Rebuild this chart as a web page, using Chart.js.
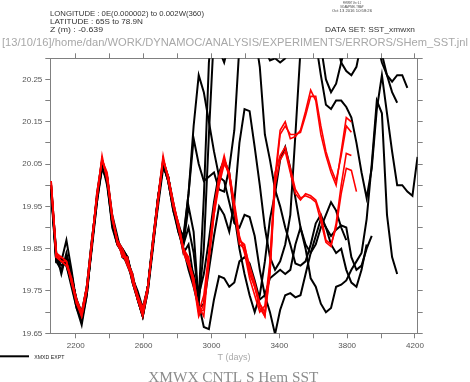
<!DOCTYPE html>
<html><head><meta charset="utf-8">
<script src="https://cdn.jsdelivr.net/npm/chart.js@4"></script>
<style>html,body{margin:0;padding:0;background:#fff;}canvas{display:block;}</style>
</head><body>
<canvas id="c" width="470" height="382"></canvas>
<script>
// time axis (days), monthly records
const startDay = 2055;
const stepDays = 30;

// XMXD EXPT members (black)
const xmxd1 = [20.00,19.82,19.80,19.83,19.78,19.73,19.68,19.74,19.86,19.98,20.06,20.02,19.92,19.87,19.85,19.83,19.77,19.73,19.69,19.75,19.85,19.96,20.05,20.02,19.96,19.90,
  19.86,19.95,19.89,19.72,19.665,19.66,19.73,19.785,19.78,19.76,19.77,19.82,19.83,19.815,19.775,19.73,19.74,19.78,19.79,19.80,19.79,19.80,19.86,19.90,19.85,19.78,19.76,19.72,19.70,19.71,19.76,19.765,19.775,19.80,19.82,19.84,19.92,20.05,20.20,20.17,19.93,19.83,19.79];
const xmxd2 = [19.99,19.84,19.79,19.84,19.79,19.72,19.69,19.76,19.87,19.97,20.05,20.01,19.90,19.86,19.84,19.81,19.78,19.74,19.70,19.76,19.86,19.97,20.05,20.01,19.94,19.89,
  19.86,19.90,19.84,19.73,19.97,20.29,20.42,20.48,20.52,20.50,20.47,20.45,20.44,20.42,20.36,20.28,20.12,20.06,19.99,19.95,19.90,19.86,19.815,19.81,19.82,19.86,19.91,19.93,19.90,19.88,19.895,19.905,19.90,19.83,19.80,19.81,19.85,19.88];
const xmxd3 = [19.99,19.83,19.82,19.87,19.80,19.72,19.69,19.75,19.86,19.96,20.04,20.02,19.93,19.88,19.83,19.82,19.79,19.73,19.69,19.76,19.87,19.97,20.06,20.02,19.95,19.91,
  19.87,19.98,20.11,20.05,20.01,20.02,20.03,19.99,19.985,20.04,20.13,20.33,20.44,20.50,20.52,20.50,20.47,20.45,20.46,20.48,20.50,20.52,20.50,20.47,20.44,20.40,20.34,20.26,20.19,20.18,20.20,20.20,20.185,20.16,20.10,20.03,19.97,20.04,20.18,20.26,20.17,20.08,20.00,20.00,19.985,19.975,20.067];
const xmxd4 = [19.98,19.82,19.83,19.81,19.76,19.71,19.68,19.75,19.85,19.96,20.05,20.00,19.91,19.86,19.85,19.83,19.78,19.75,19.71,19.76,19.86,19.95,20.04,20.02,19.95,19.90,
  19.88,19.98,20.14,20.26,20.22,20.15,20.08,20.02,20.01,19.96,19.91,19.90,19.93,19.925,19.88,19.80,19.74,19.70,19.648,19.705,19.74,19.745,19.735,19.74,19.79,19.84,19.88,19.92,19.90,19.86,19.84,19.85,19.80,19.77,19.76,19.80,19.86];
const xmxd5 = [19.99,19.83,19.81,19.82,19.78,19.73,19.70,19.76,19.87,19.97,20.05,20.02,19.92,19.87,19.84,19.82,19.77,19.73,19.69,19.75,19.86,19.97,20.05,20.01,19.95,19.89,
  19.85,19.80,19.76,19.71,19.72,19.80,19.88,19.95,19.93,19.89,19.96,20.10,20.18,20.175,20.09,20.00,19.90,19.83,19.80,19.82,19.86,19.93,20.12,20.32,20.44,20.50,20.52,20.50,20.46,20.40,20.34,20.29,20.27,20.26,20.28,20.34,20.42,20.44,20.38,20.31,20.26,20.245,20.26,20.26,20.23];
const xmxd6 = [20.00,19.84,19.82,19.82,19.79,19.72,19.69,19.75,19.86,19.97,20.05,20.01,19.91,19.86,19.84,19.83,19.78,19.74,19.70,19.76,19.86,19.96,20.05,20.01,19.94,19.90,
  19.84,19.86,19.78,19.72,19.85,20.12,20.36,20.32,20.29,20.34,20.42,20.48,20.50,20.47,20.42,20.36,20.32,20.295,20.30,20.29,20.30,20.33,20.38,20.42,20.44,20.43,20.40,20.33,20.25,20.22,20.24,20.29,20.34,20.40,20.45,20.48,20.46,20.40,20.34,20.29,20.26,20.22,20.195];
const xmxd7 = [19.99,19.82,19.82,19.81,19.77,19.71,19.67,19.74,19.86,19.97,20.04,20.01,19.92,19.87,19.84,19.82,19.78,19.74,19.70,19.76,19.87,19.97,20.05,20.02,19.95,19.90,
  19.85,19.82,19.79,19.74,19.79,19.87,19.96,20.03,20.06,20.03,19.93,19.85,19.79,19.74,19.70,19.74,19.82,19.92,19.98,20.06,20.09,20.04,19.97,19.90,19.86,19.84,19.86,19.90,19.93,19.96,19.94,19.90,19.87];

// XMWX CNTL members (red)
const cntl1 = [20.01,19.84,19.83,19.82,19.78,19.73,19.70,19.76,19.87,19.98,20.06,20.02,19.92,19.87,19.84,19.82,19.78,19.74,19.70,19.76,19.86,19.96,20.06,20.02,19.96,19.91,19.85,19.82,19.78,19.70,
  19.74,19.84,19.94,20.01,20.06,20.03,19.95,19.87,19.855,19.81,19.77,19.72,19.70,19.81,20.02,20.13,20.15,20.11,20.115,20.13,20.175,20.225,20.20,20.12,20.07,20.03,20.00,20.08,20.16,20.15];
const cntl2 = [20.00,19.83,19.82,19.82,19.77,19.72,19.69,19.75,19.86,19.97,20.07,20.01,19.93,19.87,19.83,19.83,19.77,19.73,19.69,19.75,19.87,19.97,20.07,20.01,19.95,19.90,19.84,19.81,19.77,19.69,
  19.72,19.83,19.93,20.02,20.07,20.02,19.94,19.86,19.85,19.79,19.76,19.71,19.69,19.80,20.01,20.12,20.14,20.12,20.12,20.125,20.165,20.21,20.21,20.14,20.08,20.04,20.01,20.07,20.14,20.125];
const cntl3 = [20.01,19.84,19.82,19.81,19.78,19.72,19.70,19.76,19.87,19.97,20.06,20.03,19.93,19.86,19.84,19.81,19.78,19.74,19.71,19.76,19.86,19.96,20.06,20.02,19.96,19.90,19.85,19.83,19.76,19.715,
  19.69,19.82,19.93,20.00,20.05,20.03,19.96,19.88,19.84,19.78,19.74,19.70,19.715,19.82,20.03,20.07,20.09,20.04,19.99,19.97,19.975,19.97,19.96,19.915,19.865,19.855,19.91,20.00,20.075,20.07];
const cntl4 = [20.00,19.83,19.83,19.82,19.77,19.73,19.69,19.75,19.86,19.98,20.06,20.02,19.92,19.87,19.85,19.82,19.79,19.73,19.70,19.76,19.87,19.97,20.06,20.02,19.95,19.91,19.85,19.82,19.78,19.70,
  19.705,19.84,19.95,20.02,20.06,20.02,19.95,19.87,19.86,19.80,19.76,19.72,19.69,19.79,20.00,20.06,20.08,20.03,19.98,19.965,19.98,19.975,19.965,19.93,19.87,19.86,19.90,19.98,20.04,20.035,19.985];

const blackSeries = [xmxd1, xmxd2, xmxd3, xmxd4, xmxd5, xmxd6, xmxd7];
const redSeries = [cntl1, cntl2, cntl3, cntl4];

// axis ticks
const xTickValues = [2200,2400,2600,2800,3000,3200,3400,3600,3800,4000,4200];
const xTickLabels = ['2200','','2600','','3000','','3400','','3800','','4200'];
const yTickValues = [19.65,19.70,19.75,19.80,19.85,19.90,19.95,20.00,20.05,20.10,20.15,20.20,20.25,20.30];
const yTickLabels = ['19.65','','19.75','','19.85','','19.95','','20.05','','20.15','','20.25',''];

const toPoints = arr => arr.map((v, i) => ({x: startDay + stepDays * i, y: v}));

// red (control) drawn on top of black (experiment)
const datasets = [];
redSeries.forEach((s, k) => datasets.push({
  label: 'XMWX CNTL ' + (k + 1), data: toPoints(s), borderColor: '#ff0000', borderWidth: 1.6,
  pointRadius: 0, tension: 0, clip: 0, order: 0, xAxisID: 'x', yAxisID: 'y'
}));
blackSeries.forEach((s, k) => datasets.push({
  label: 'XMXD EXPT ' + (k + 1), data: toPoints(s), borderColor: '#000', borderWidth: 2,
  pointRadius: 0, tension: 0, clip: 0, order: 1, xAxisID: 'x', yAxisID: 'y'
}));

const AX = '#808080';
const tickFont = {family: 'Liberation Sans', size: 8};

function fitText(ctx, text, x, y, width, font, color, align) {
  ctx.save();
  ctx.font = font;
  ctx.fillStyle = color;
  ctx.textBaseline = 'alphabetic';
  ctx.textAlign = 'left';
  const w = ctx.measureText(text).width;
  const sx = width / w;
  let left = x;
  if (align === 'center') left = x - width / 2;
  ctx.translate(left, y);
  ctx.scale(sx, 1);
  ctx.fillText(text, 0, 0);
  ctx.restore();
}

const decor = {
  id: 'decor',
  beforeDraw(chart) {
    const ctx = chart.ctx;
    ctx.save();
    ctx.fillStyle = '#fff';
    ctx.fillRect(0, 0, chart.width, chart.height);
    ctx.restore();
  },
  afterDraw(chart) {
    const ctx = chart.ctx;
    // header
    fitText(ctx, 'LONGITUDE : 0E(0.000002) to 0.002W(360)', 50, 16, 154, '7.5px "Liberation Sans"', '#333');
    fitText(ctx, 'LATITUDE : 65S to 78.9N', 50, 23.5, 93, '7.5px "Liberation Sans"', '#333');
    fitText(ctx, 'Z (m) : -0.639', 50, 31.5, 53, '7.5px "Liberation Sans"', '#333');
    fitText(ctx, 'DATA SET: SST_xmwxn', 325, 31.5, 90, '7.5px "Liberation Sans"', '#333');
    fitText(ctx, 'FERRET Ver. 6.1', 352, 4.3, 18, '3.5px "Liberation Sans"', '#444', 'center');
    fitText(ctx, 'NOAA/PMEL TMAP', 352, 8, 23, '3.5px "Liberation Sans"', '#444', 'center');
    fitText(ctx, 'Oct 13 2016 10:58:26', 352, 12, 40, '3.5px "Liberation Sans"', '#444', 'center');
    fitText(ctx, '[13/10/16]/home/dan/WORK/DYNAMOC/ANALYSIS/EXPERIMENTS/ERRORS/SHem_SST.jnl', 2, 45.5, 466, '11px "Liberation Sans"', '#a8a8a8');
    // axis title
    const ca = chart.chartArea;
    fitText(ctx, 'T (days)', (ca.left + ca.right) / 2, 359.5, 33, '9px "Liberation Sans"', '#aaa', 'center');
    // legend
    ctx.save();
    ctx.strokeStyle = '#000';
    ctx.lineWidth = 2;
    ctx.beginPath();
    ctx.moveTo(0, 356.3);
    ctx.lineTo(29, 356.3);
    ctx.stroke();
    ctx.restore();
    fitText(ctx, 'XMXD EXPT', 34.3, 358.5, 30, '5.5px "Liberation Sans"', '#222');
    // bottom title
    fitText(ctx, 'XMWX CNTL S Hem SST', 233.3, 381.5, 170, '15px "Liberation Serif"', '#8c8c8c', 'center');
  }
};

const xCommon = {
  type: 'linear', min: 2050, max: 4216,
  afterBuildTicks: s => { s.ticks = xTickValues.map(v => ({value: v})); },
  grid: {drawOnChartArea: false, drawTicks: true, tickLength: 5, color: AX, lineWidth: 1},
  border: {display: true, color: AX, width: 1}
};
const yCommon = {
  type: 'linear', min: 19.65, max: 20.30,
  afterBuildTicks: s => { s.ticks = yTickValues.map(v => ({value: v})); },
  grid: {drawOnChartArea: false, drawTicks: true, tickLength: 5, color: AX, lineWidth: 1},
  border: {display: true, color: AX, width: 1}
};

new Chart(document.getElementById('c'), {
  type: 'line',
  data: {datasets},
  options: {
    responsive: false, animation: false, devicePixelRatio: 1,
    layout: {padding: {left: 0, right: 47, top: 53, bottom: 28.7}},
    plugins: {legend: {display: false}, tooltip: {enabled: false}},
    scales: {
      x: Object.assign({}, xCommon, {
        position: 'bottom',
        afterFit: s => { s.height = 20; },
        ticks: {callback: (v, i) => xTickLabels[i], font: tickFont, color: '#555', padding: 3, maxRotation: 0, autoSkip: false}
      }),
      x2: Object.assign({}, xCommon, {
        position: 'top',
        afterFit: s => { s.height = 5.3; },
        ticks: {display: false}
      }),
      y: Object.assign({}, yCommon, {
        position: 'left',
        afterFit: s => { s.width = 50.3; },
        ticks: {callback: (v, i) => yTickLabels[i], font: tickFont, color: '#555', padding: 3, autoSkip: false}
      }),
      y2: Object.assign({}, yCommon, {
        position: 'right',
        afterFit: s => { s.width = 5.3; },
        ticks: {display: false}
      })
    }
  },
  plugins: [decor]
});
</script>
</body></html>
